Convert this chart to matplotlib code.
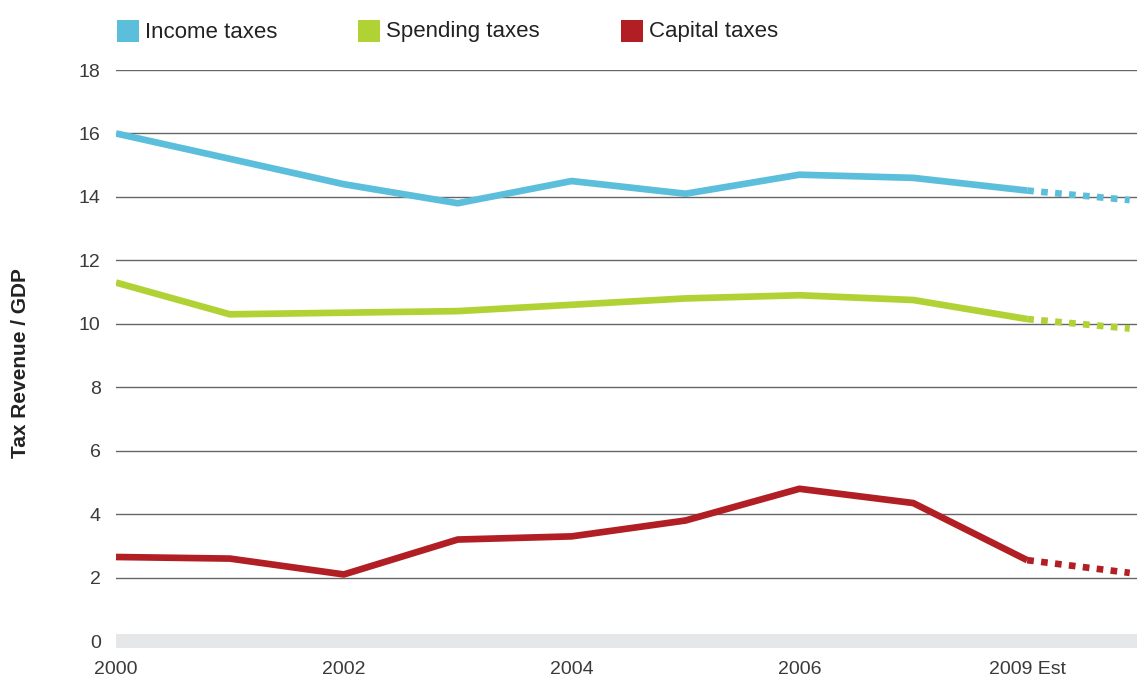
import matplotlib.pyplot as plt
from matplotlib.patches import Rectangle

plt.rcParams['font.family'] = ['Liberation Sans', 'DejaVu Sans']

# categories along the x axis (one per year, the last one is the 2009 estimate base)
periods = [0, 1, 2, 3, 4, 5, 6, 7, 8]
tick_labels = ["2000", "", "2002", "", "2004", "", "2006", "", "2009 Est"]
est_x = [8, 8.9]

income = [16.0, 15.2, 14.4, 13.8, 14.5, 14.1, 14.7, 14.6, 14.2]
spending = [11.3, 10.3, 10.35, 10.4, 10.6, 10.8, 10.9, 10.75, 10.15]
capital = [2.65, 2.6, 2.1, 3.2, 3.3, 3.8, 4.8, 4.35, 2.55]

income_est = [14.2, 13.9]
spending_est = [10.15, 9.85]
capital_est = [2.55, 2.15]

names = ["Income taxes", "Spending taxes", "Capital taxes"]
colors = ["#5bbfdc", "#b0d235", "#b11f24"]

fig = plt.figure(figsize=(11.37, 6.77), dpi=100)
ax = fig.add_axes([116 / 1137, 28 / 677, 1 - 116 / 1137, (649 - 70) / 677])

ax.set_xlim(0, (1137 - 116) / 113.9)
ax.set_ylim(-0.25, 18)

# grey band at zero and grid lines
ax.axhspan(-0.22, 0.22, color="#e6e7e8", lw=0, zorder=1)
for y in range(2, 19, 2):
    ax.axhline(y, color="#666666", lw=1, zorder=1)

series = [(income, income_est), (spending, spending_est), (capital, capital_est)]
for (vals, est), c in zip(series, colors):
    ax.plot(periods, vals, color=c, lw=4.8, solid_joinstyle="round",
            solid_capstyle="butt", zorder=3)
    ax.plot(est_x, est, color=c, lw=4.8, linestyle=(0, (1.0, 1.1)),
            dash_capstyle="butt", zorder=3)

ax.set_yticks(range(0, 19, 2))
ax.set_xticks(periods)
ax.set_xticklabels(tick_labels)
ax.tick_params(length=0, labelsize=14, labelcolor="#3a3a3a")
ax.tick_params(axis="y", pad=11)
ax.tick_params(axis="x", pad=9)
for s in ax.spines.values():
    s.set_visible(False)

fig.text(20 / 1137, 1 - 363 / 677, "Tax Revenue / GDP", rotation=90,
         ha="center", va="center", fontsize=15, fontweight="bold", color="#222222")

# legend along the top
legend_x = [117, 358, 621]
for name, c, lx in zip(names, colors, legend_x):
    fig.patches.append(Rectangle((lx / 1137, 1 - 42 / 677), 22 / 1137, 22 / 677,
                                 transform=fig.transFigure, color=c, lw=0))
    fig.text((lx + 28) / 1137, 1 - 32 / 677, name, ha="left", va="center",
             fontsize=16, color="#222222")

fig.savefig("out.png", dpi=100)
